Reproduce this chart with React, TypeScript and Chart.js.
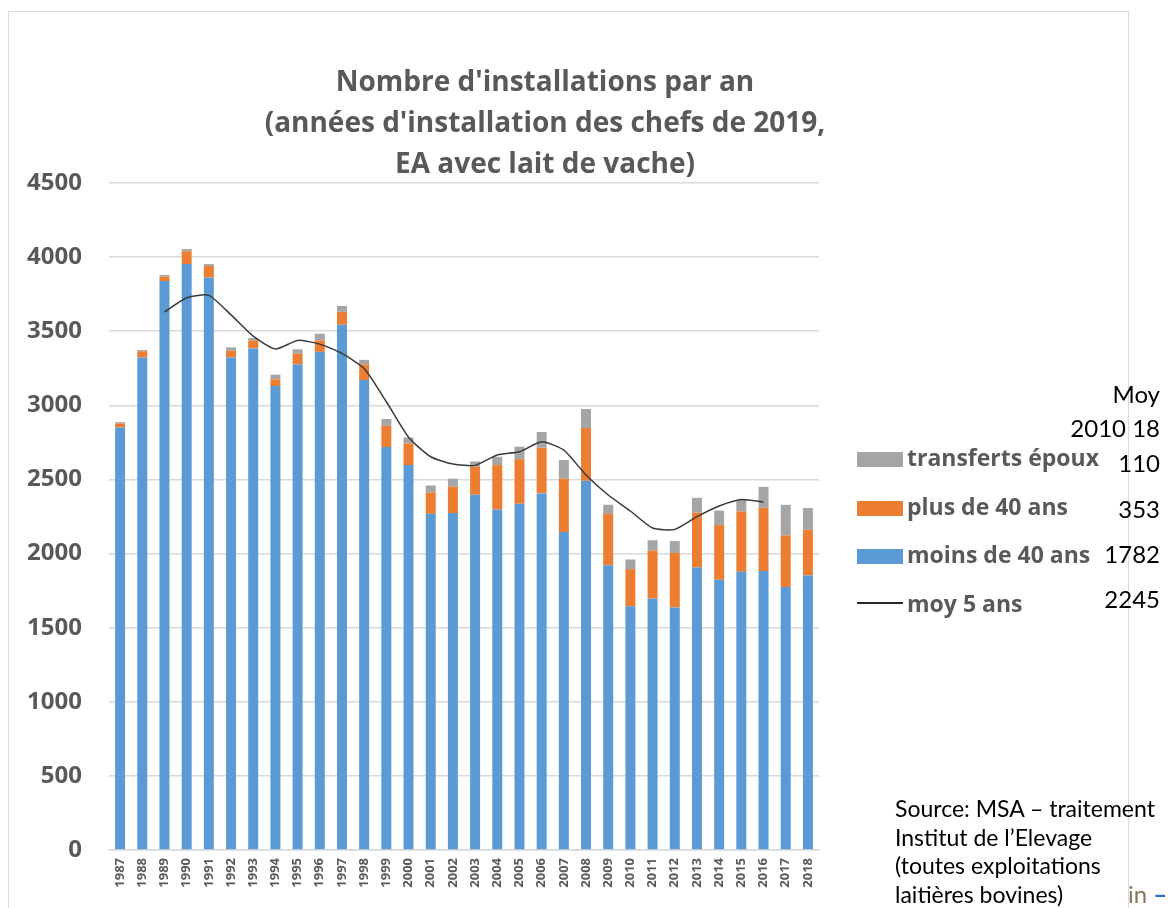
import React, { useEffect, useRef } from "react";
import { Chart, registerables } from "chart.js";

Chart.register(...registerables);

const years = [
  "1987", "1988", "1989", "1990", "1991", "1992", "1993", "1994", "1995", "1996", "1997",
  "1998", "1999", "2000", "2001", "2002", "2003", "2004", "2005", "2006", "2007", "2008",
  "2009", "2010", "2011", "2012", "2013", "2014", "2015", "2016", "2017", "2018",
];
const moins40 = [
  2850, 3323, 3838, 3953, 3863, 3323, 3384, 3130, 3276, 3361, 3544, 3171, 2719, 2597, 2268, 2273,
  2397, 2297, 2336, 2406, 2145, 2491, 1921, 1644, 1697, 1636, 1906, 1823, 1877, 1882, 1774, 1852,
];
const plus40 = [
  28, 42, 30, 86, 77, 45, 54, 45, 72, 77, 87, 105, 143, 146, 144, 178,
  189, 300, 301, 308, 360, 356, 347, 251, 323, 368, 369, 369, 407, 427, 348, 308,
];
const transferts = [
  8, 8, 12, 15, 13, 23, 16, 32, 30, 45, 39, 31, 46, 40, 47, 54,
  35, 56, 84, 106, 126, 128, 61, 65, 70, 80, 101, 98, 77, 141, 207, 147,
];
const moy5 = [
  null, null, 3629, 3726, 3742, 3610, 3467, 3380, 3438, 3413, 3350, 3248, 3024, 2785, 2653, 2604,
  2595, 2665, 2687, 2754, 2698, 2530, 2395, 2287, 2172, 2163, 2249, 2321, 2365, 2348, null, null,
];

const titleLines = [
  "Nombre d'installations par an",
  "(années d'installation des chefs de 2019,",
  "EA avec lait de vache)",
];

const legendItems = [
  { label: "transferts époux", color: "#a5a5a5", kind: "box" },
  { label: "plus de 40 ans", color: "#ed7d31", kind: "box" },
  { label: "moins de 40 ans", color: "#5b9bd5", kind: "box" },
  { label: "moy 5 ans", color: "#262626", kind: "line" },
];

const moyLines = [
  { text: "Moy", baseline: 403 },
  { text: "2010 18", baseline: 437 },
  { text: "110", baseline: 472 },
  { text: "353", baseline: 518 },
  { text: "1782", baseline: 563 },
  { text: "2245", baseline: 608 },
];

const sourceLines = [
  "Source: MSA – traitement",
  "Institut de l’Elevage",
  "(toutes exploitations",
  "laitières bovines)",
];

const GRAY = "#595959";
const BOLD_FONT = "'Open Sans', Lato, sans-serif";
const TEXT_FONT = "Lato, 'Open Sans', sans-serif";

export default function App() {
  const ref = useRef<HTMLCanvasElement>(null);

  useEffect(() => {
    const chart = new Chart(ref.current!, {
      type: "bar",
      data: {
        labels: years,
        datasets: [
          {
            type: "line",
            label: "moy 5 ans",
            data: moy5,
            borderColor: "#3a3a3a",
            borderWidth: 1.5,
            pointRadius: 0,
            tension: 0.2,
            order: 0,
            stack: "avg",
          } as any,
          { label: "moins de 40 ans", data: moins40, backgroundColor: "#5b9bd5", stack: "s", order: 1 },
          { label: "plus de 40 ans", data: plus40, backgroundColor: "#ed7d31", stack: "s", order: 1 },
          { label: "transferts époux", data: transferts, backgroundColor: "#a5a5a5", stack: "s", order: 1 },
        ],
      },
      options: {
        responsive: false,
        animation: false,
        devicePixelRatio: 1,
        layout: { padding: { top: 171, right: 309, left: 0, bottom: 7 } },
        plugins: {
          legend: { display: false },
          title: { display: false },
          tooltip: { enabled: false },
        },
        datasets: { bar: { barPercentage: 0.9, categoryPercentage: 0.5 } },
        scales: {
          x: {
            stacked: true,
            grid: { display: false, drawTicks: false },
            border: { display: true, color: "#d9d9d9", width: 1.5 },
            ticks: {
              minRotation: 90,
              maxRotation: 90,
              autoSkip: false,
              padding: 8,
              color: GRAY,
              font: { family: BOLD_FONT, size: 13, weight: "bold" },
            },
            afterFit: (s: any) => {
              s.height = 50;
            },
          },
          y: {
            stacked: true,
            min: 0,
            max: 4500,
            grid: { color: "#d9d9d9", lineWidth: 1.5, drawTicks: false },
            border: { display: false },
            ticks: {
              stepSize: 500,
              padding: 27,
              color: GRAY,
              font: { family: BOLD_FONT, size: 24, weight: "bold" },
              callback: (v: any) => String(v),
            },
            afterFit: (s: any) => {
              s.width = 100;
            },
          },
        },
      },
    });
    return () => chart.destroy();
  }, []);

  return (
    <div
      style={{
        position: "absolute",
        left: 0,
        top: 0,
        width: 1168,
        height: 908,
        overflow: "hidden",
        background: "#ffffff",
        fontFamily: TEXT_FONT,
      }}
    >
      <div
        style={{
          position: "absolute",
          left: 8,
          top: 11,
          width: 1119,
          height: 900,
          border: "1.5px solid #d9d9d9",
        }}
      />
      <canvas
        ref={ref}
        width={1119}
        height={895}
        style={{ position: "absolute", left: 9, top: 12, width: 1119, height: 895 }}
      />
      {titleLines.map((t, i) => (
        <div
          key={i}
          style={{
            position: "absolute",
            left: 195,
            width: 700,
            top: 80 + i * 41 - 22,
            textAlign: "center",
            fontFamily: BOLD_FONT,
            fontSize: 28,
            lineHeight: "44px",
            fontWeight: 700,
            color: GRAY,
            whiteSpace: "nowrap",
          }}
        >
          {t}
        </div>
      ))}
      {legendItems.map((it, i) => (
        <div key={it.label}>
          {it.kind === "box" ? (
            <div
              style={{
                position: "absolute",
                left: 857,
                top: 452 + i * 48.5,
                width: 46,
                height: 15,
                background: it.color,
              }}
            />
          ) : (
            <div
              style={{
                position: "absolute",
                left: 857,
                top: 603 - 0.75,
                width: 46,
                height: 1.5,
                background: it.color,
              }}
            />
          )}
          <div
            style={{
              position: "absolute",
              left: 907,
              top: 457 + i * 48.5 - 20,
              fontFamily: BOLD_FONT,
              fontSize: 23,
              lineHeight: "40px",
              fontWeight: 700,
              color: GRAY,
              whiteSpace: "nowrap",
            }}
          >
            {it.label}
          </div>
        </div>
      ))}
      {moyLines.map((m, i) => (
        <div
          key={i}
          style={{
            position: "absolute",
            right: 1168 - 1160,
            top: m.baseline - 29,
            fontSize: 24,
            lineHeight: "40px",
            color: "#000000",
            whiteSpace: "nowrap",
          }}
        >
          {m.text}
        </div>
      ))}
      {sourceLines.map((s, i) => (
        <div
          key={i}
          style={{
            position: "absolute",
            left: 895,
            top: 819 + i * 28.7 - 27,
            fontSize: 23,
            lineHeight: "32px",
            color: "#000000",
            whiteSpace: "nowrap",
          }}
        >
          {s}
        </div>
      ))}
      <div
        style={{
          position: "absolute",
          left: 1128,
          top: 905 - 27,
          fontSize: 24,
          lineHeight: "32px",
          color: "#85785a",
          whiteSpace: "nowrap",
        }}
      >
        in <span style={{ color: "#2e6fc4", fontWeight: 700 }}>–</span>
      </div>
    </div>
  );
}
